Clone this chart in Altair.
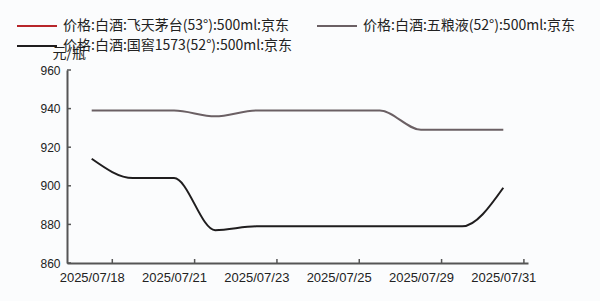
import altair as alt
import pandas as pd

dates = ["2025/07/18", "2025/07/20", "2025/07/21", "2025/07/22", "2025/07/23", "2025/07/24",
         "2025/07/25", "2025/07/28", "2025/07/29", "2025/07/30", "2025/07/31"]
label_dates = ["2025/07/18", "2025/07/21", "2025/07/23", "2025/07/25", "2025/07/29", "2025/07/31"]
guojiao = [914, 904, 904, 877, 879, 879, 879, 879, 879, 879, 899]
wuliangye = [939, 939, 939, 936, 939, 939, 939, 939, 929, 929, 929]
y_ticks = [860, 880, 900, 920, 940, 960]

s_maotai = "价格:白酒:飞天茅台(53°):500ml:京东"
s_wly = "价格:白酒:五粮液(52°):500ml:京东"
s_gj = "价格:白酒:国窖1573(52°):500ml:京东"
series_order = [s_maotai, s_wly, s_gj]
series_colors = ["#b8262b", "#6b6064", "#1f1d1e"]

rows = []
for d, v in zip(dates, wuliangye):
    rows.append({"date": d, "price": v, "series": s_wly})
for d, v in zip(dates, guojiao):
    rows.append({"date": d, "price": v, "series": s_gj})
df = pd.DataFrame(rows)

W, H = 461, 193
x_scale = alt.Scale(type="point", domain=dates, padding=0.6)
y_scale = alt.Scale(domain=[860, 960], nice=False)

x_axis = alt.Axis(values=label_dates, labelAngle=0, ticks=False, title=None,
                  labelFontSize=13, labelPadding=8, labelColor="#222",
                  labelOverlap=False,
                  labelFont="Liberation Sans", domainColor="#555", domainWidth=2)
y_axis = alt.Axis(values=y_ticks, ticks=False, grid=False, title="元/瓶",
                  titleAngle=0, titleAlign="left", titleBaseline="alphabetic",
                  titleX=-15, titleY=-13, titleFontSize=14, titleFontWeight="normal",
                  titleFont="Noto Sans CJK SC", titleColor="#222",
                  labelOverlap=False, labelFlush=False,
                  labelFontSize=12, labelPadding=7, labelColor="#222",
                  labelFont="Liberation Sans", domainColor="#555", domainWidth=2)

lines = alt.Chart(df).mark_line(interpolate="monotone", strokeWidth=2).encode(
    x=alt.X("date:O", scale=x_scale, axis=x_axis),
    y=alt.Y("price:Q", scale=y_scale, axis=y_axis),
    color=alt.Color("series:N",
                    scale=alt.Scale(domain=series_order, range=series_colors),
                    legend=None),
)

ytick_df = pd.DataFrame({"price": y_ticks})
yticks = alt.Chart(ytick_df).mark_rule(color="#555", strokeWidth=1.5).encode(
    y=alt.Y("price:Q", scale=y_scale, axis=y_axis),
    x=alt.value(0), x2=alt.value(4),
)

xtick_df = pd.DataFrame({"date": label_dates})
xticks = alt.Chart(xtick_df).mark_rule(color="#555", strokeWidth=1.5, xOffset=20.6).encode(
    x=alt.X("date:O", scale=x_scale, axis=x_axis),
    y=alt.value(H), y2=alt.value(H - 4),
)

# manual legend (positions relative to plot origin)
one = pd.DataFrame({"k": [0]})
legend_layers = []
for name, color, sx, sy in [
    (s_maotai, series_colors[0], -50, -44),
    (s_wly, series_colors[1], 250, -44),
    (s_gj, series_colors[2], -50, -24),
]:
    legend_layers.append(
        alt.Chart(one).mark_rule(color=color, strokeWidth=2).encode(
            x=alt.value(sx), x2=alt.value(sx + 40), y=alt.value(sy)
        )
    )
    legend_layers.append(
        alt.Chart(one).mark_text(align="left", baseline="middle", fontSize=14,
                                 font="Noto Sans CJK SC", color="#222").encode(
            x=alt.value(sx + 46), y=alt.value(sy), text=alt.value(name)
        )
    )

chart = alt.layer(lines, yticks, xticks, *legend_layers).properties(
    width=W, height=H,
    autosize=alt.AutoSizeParams(type="none"),
    padding={"left": 67, "top": 70, "right": 72, "bottom": 38},
    background="#fbfcfd",
).configure_view(stroke=None)

chart.save("out.html", embed_options={"renderer": "svg", "actions": False})
